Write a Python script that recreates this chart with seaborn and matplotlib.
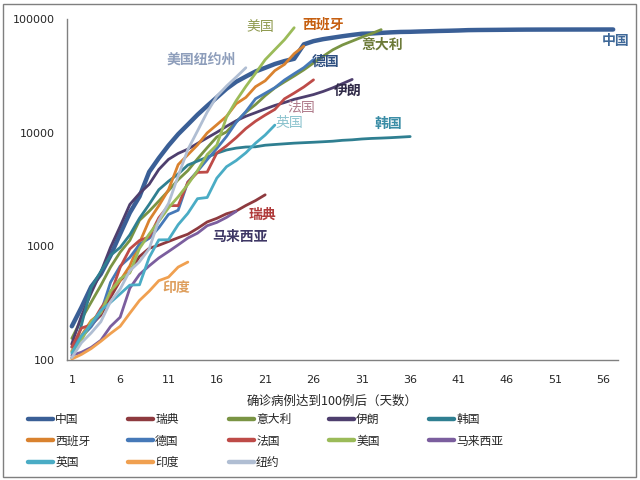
import numpy as np
import pandas as pd
import matplotlib
matplotlib.use("Agg")
import matplotlib.pyplot as plt
import seaborn as sns
from matplotlib.lines import Line2D
from matplotlib.patches import Rectangle

# ---------------- data (cases since reaching 100, by day) ----------------
china = [198, 291, 440, 571, 830, 1287, 1975, 2744, 4515, 5974, 7711, 9692, 11791,
         14380, 17205, 20438, 24324, 28018, 31161, 34546, 37198, 40171, 42638, 44653,
         59804, 63851, 66492, 68500, 70548, 72436, 74185, 74576, 75465, 76288, 76936,
         77150, 77658, 78064, 78497, 78824, 79251, 79824, 80026, 80151, 80270, 80409,
         80552, 80651, 80695, 80735, 80754, 80778, 80793, 80813, 80824, 80844, 80860]
sweden = [137, 161, 203, 248, 355, 500, 599, 814, 961, 1022, 1103, 1190, 1279, 1439,
          1639, 1763, 1934, 2046, 2286, 2526, 2840]
italy = [155, 229, 322, 453, 655, 888, 1128, 1694, 2036, 2502, 3089, 3858, 4636, 5883,
         7375, 9172, 10149, 12462, 15113, 17660, 21157, 24747, 27980, 31506, 35713,
         41035, 47021, 53578, 59138, 63927, 69176, 74386, 80589]
iran = [139, 245, 388, 593, 978, 1501, 2336, 2922, 3513, 4747, 5823, 6566, 7161, 8042,
        9000, 10075, 11364, 12729, 13938, 14991, 16169, 17361, 18407, 19644, 20610,
        21638, 23049, 24811, 27017, 29406]
korea = [104, 204, 433, 602, 833, 977, 1261, 1766, 2337, 3150, 3736, 4335, 5186, 5621,
         6088, 6593, 7041, 7314, 7478, 7513, 7755, 7869, 7979, 8086, 8162, 8236, 8320,
         8413, 8565, 8652, 8799, 8897, 8961, 9037, 9137, 9241]
spain = [120, 165, 222, 259, 400, 500, 673, 1073, 1695, 2277, 3146, 5232, 6391, 7798,
         9942, 11748, 13910, 17963, 20410, 25374, 28603, 35136, 39885, 49515, 57786]
germany = [130, 159, 196, 262, 482, 670, 799, 1040, 1176, 1457, 1908, 2078, 3675, 4585,
           5795, 7272, 9257, 12327, 15320, 19848, 22213, 24873, 29056, 32986, 37323, 43938]
france = [130, 191, 204, 285, 377, 653, 949, 1126, 1209, 1784, 2281, 2281, 3661, 4469,
          4499, 6633, 7652, 9043, 10871, 12612, 14282, 16018, 19856, 22304, 25233, 29155]
usa = [118, 149, 217, 262, 402, 518, 583, 959, 1281, 1663, 2179, 2727, 3499, 4632, 6421,
       7786, 13680, 19101, 25493, 33276, 43847, 53740, 65778, 83836]
malaysia = [110, 117, 129, 149, 197, 238, 428, 566, 673, 790, 900, 1030, 1183, 1306,
            1518, 1624, 1796, 2031]
uk = [115, 163, 206, 273, 321, 382, 456, 459, 798, 1140, 1143, 1551, 1950, 2626, 2689,
      3983, 5018, 5683, 6650, 8077, 9529, 11658]
india = [102, 112, 126, 146, 171, 198, 258, 334, 403, 499, 536, 657, 727]
newyork = [105, 142, 173, 217, 326, 421, 610, 732, 950, 1700, 2382, 4152, 7102, 10356,
           15168, 20875, 25665, 30811, 37258]

names = ["中国", "瑞典", "意大利", "伊朗", "韩国", "西班牙", "德国", "法国", "美国",
         "马来西亚", "英国", "印度", "纽约"]
values = [china, sweden, italy, iran, korea, spain, germany, france, usa, malaysia,
          uk, india, newyork]
colors = ["#3A5F96", "#8E3A3F", "#7A9444", "#4E3F6E", "#2F7F91", "#D9822F", "#4679B8",
          "#BE4B48", "#9BBB59", "#7B5E9E", "#4AACC5", "#F0A050", "#B0BED3"]

x_ticks = [1, 6, 11, 16, 21, 26, 31, 36, 41, 46, 51, 56]
y_ticks = [100, 1000, 10000, 100000]
y_ticklabels = ["100", "1000", "10000", "100000"]
x_label = "确诊病例达到100例后（天数）"

# in-chart labels: text, (x px, y px), color, weight
labels = [
    ("美国", (260, 27), "#8F9A4E", "normal"),
    ("西班牙", (323, 25), "#C65F10", "bold"),
    ("中国", (616, 41), "#3F6898", "bold"),
    ("意大利", (382, 45), "#6C7A38", "bold"),
    ("美国纽约州", (201, 60), "#8E9EBB", "bold"),
    ("德国", (326, 62), "#2E4F80", "bold"),
    ("伊朗", (348, 91), "#302A48", "bold"),
    ("法国", (301, 108), "#B07C8C", "normal"),
    ("英国", (289, 123), "#8CC3CE", "normal"),
    ("韩国", (388, 124), "#3B8DA6", "bold"),
    ("瑞典", (262, 215), "#B03B3B", "bold"),
    ("马来西亚", (240, 237), "#3E3765", "bold"),
    ("印度", (176, 288), "#DE9F5E", "bold"),
]

rows = []
for n, vals in zip(names, values):
    for i, v in enumerate(vals):
        rows.append((n, i + 1, v))
df = pd.DataFrame(rows, columns=["country", "day", "cases"])

# ---------------- plot ----------------
sns.set_style("white")
plt.rcParams["font.family"] = ["Noto Sans CJK SC", "DejaVu Sans"]

W, H = 640, 480
fig = plt.figure(figsize=(6.4, 4.8), dpi=100)
ax = fig.add_axes([67 / W, 1 - 360 / H, (618 - 67) / W, (360 - 19) / H])

for n, c in zip(names, colors):
    sub = df[df["country"] == n]
    sns.lineplot(data=sub, x="day", y="cases", color=c,
                 linewidth=3.2 if n == "中国" else 2.0, ax=ax, legend=False)

ax.set_yscale("log")
ax.set_ylim(100, 100000)
ax.set_xlim(0.5, 57.5)

ax.set_yticks(y_ticks)
ax.set_yticklabels(y_ticklabels, fontfamily="DejaVu Sans", fontsize=8)
ax.yaxis.set_minor_locator(matplotlib.ticker.NullLocator())
ax.tick_params(axis="y", length=0, pad=9)

ax.set_xticks(x_ticks)
ax.set_xticklabels([str(t) for t in x_ticks], fontfamily="DejaVu Sans", fontsize=8)
ax.set_xticks(np.arange(0.5, 58, 1), minor=True)
ax.tick_params(axis="x", which="major", length=0, pad=11)
ax.tick_params(axis="x", which="minor", length=7, direction="inout", color="#808080", width=1)

for s in ["top", "right"]:
    ax.spines[s].set_visible(False)
for s in ["left", "bottom"]:
    ax.spines[s].set_color("#808080")
    ax.spines[s].set_linewidth(1)

ax.set_xlabel(x_label, fontsize=9)
ax.set_ylabel("")
ax.xaxis.set_label_coords((332 - 67) / (618 - 67), (360 - 401) / (360 - 19))
ax.xaxis.label.set_va("center")

for txt, (px, py), c, w in labels:
    fig.text(px / W, 1 - py / H, txt, color=c, fontsize=10, fontweight=w,
             ha="center", va="center")

# legend: 5 columns laid out row-wise
handles = [Line2D([0], [0], color=c, linewidth=3.2) for c in colors]
col_x = [28, 128, 229, 329, 429]
for ci in range(5):
    idx = list(range(ci, len(names), 5))
    fig.legend([handles[i] for i in idx], [names[i] for i in idx],
               loc="upper left", bbox_to_anchor=(col_x[ci] / W, 1 - 413 / H),
               frameon=False, fontsize=8.5, handlelength=2.1, handletextpad=0.2,
               borderpad=0, borderaxespad=0, labelspacing=0.72)

fig.patches.append(Rectangle((3 / W, 3 / H), 633 / W, 473 / H, transform=fig.transFigure,
                             fill=False, edgecolor="#7F7F7F", linewidth=1))

fig.savefig("out.png", dpi=100)
